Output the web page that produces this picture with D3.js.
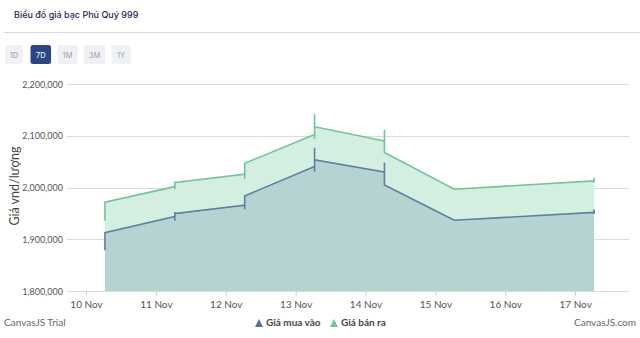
<!DOCTYPE html>
<html><head><meta charset="utf-8">
<script src="https://cdnjs.cloudflare.com/ajax/libs/d3/7.8.5/d3.min.js"></script>
<style>
html,body{margin:0;padding:0;background:#fff;}
svg{display:block;}
</style></head>
<body>
<svg id="c" width="640" height="338"></svg>
<script>
// ---- data ----
const title = "Biểu đồ giá bạc Phú Quý 999";
const rangeButtons = ["1D","7D","1M","3M","1Y"];
const activeButton = "7D";
const dates = ["2023-11-10 06:30","2023-11-11 06:30","2023-11-12 06:30","2023-11-13 06:30","2023-11-14 06:30","2023-11-15 06:30","2023-11-17 06:30"];
// each day: sequence of prices drawn at the same time (arrival, extremes, departure)
const buyValues = [
  [1879000, 1913000],
  [1944000, 1936000, 1953000, 1950000],
  [1966000, 1958000, 1984000],
  [2041000, 2031000, 2077000, 2054000],
  [2030000, 2048000, 2005000],
  [1937000],
  [1952000, 1949000, 1958000]
];
const sellValues = [
  [1936000, 1972000],
  [2002000, 1997000, 2012000, 2010000],
  [2026000, 2017000, 2047000],
  [2103000, 2094000, 2142000, 2118000],
  [2090000, 2112000, 2068000],
  [1997000],
  [2013000, 2010000, 2019000]
];
const seriesNames = ["Giá mua vào","Giá bán ra"];
const yTicks = [1800000, 1900000, 2000000, 2100000, 2200000];
const xTickDates = ["2023-11-10","2023-11-11","2023-11-12","2023-11-13","2023-11-14","2023-11-15","2023-11-16","2023-11-17"];
const yTitle = "Giá vnd/lượng";

// ---- drawing ----
const parse = d3.timeParse("%Y-%m-%d %H:%M");
const parseDay = d3.timeParse("%Y-%m-%d");
const svg = d3.select("#c");
const font = "Lato, 'Open Sans', sans-serif";

// header
svg.append("text").attr("x",14).attr("y",18).text(title)
  .attr("font-family","Inter, sans-serif").attr("font-size",9).attr("font-weight",500).attr("fill","#1e2752");
svg.append("line").attr("x1",4).attr("x2",640).attr("y1",32.5).attr("y2",32.5).attr("stroke","#d6d9e3");
const btnX = [5,30.5,57.5,84,111.5], btnW=[18,20.5,20,21,19];
rangeButtons.forEach((b,i)=>{
  const act = b===activeButton;
  svg.append("rect").attr("x",btnX[i]).attr("y",45).attr("width",btnW[i]).attr("height",19).attr("rx",2.5)
    .attr("fill",act?"#2c4586":"#f0f1f4");
  svg.append("text").attr("x",btnX[i]+btnW[i]/2).attr("y",57.5).attr("text-anchor","middle").text(b)
    .attr("font-family","Inter, sans-serif").attr("font-size",7.5).attr("fill",act?"#fff":"#9a9eab");
});

const x = d3.scaleTime()
  .domain([parse("2023-11-09 17:28"), parse("2023-11-17 18:30")])
  .range([67, 629]);
const y = d3.scaleLinear().domain([1800000, 2200000]).range([291, 84.3]);

// gridlines
svg.append("g").selectAll("line").data(yTicks).join("line")
  .attr("x1",67).attr("x2",629).attr("y1",d=>Math.round(y(d))+0.5).attr("y2",d=>Math.round(y(d))+0.5)
  .attr("stroke","#dcdcdc").attr("stroke-width",1);
svg.append("g").selectAll("text").data(yTicks).join("text")
  .attr("x",63).attr("y",d=>y(d)+3.5).attr("text-anchor","end").text(d=>d3.format(",")(d))
  .attr("font-family",font).attr("font-size",9).attr("fill","#555");

function flat(vals){
  const pts=[];
  vals.forEach((seq,i)=>seq.forEach(v=>pts.push({t:parse(dates[i]),v})));
  return pts;
}
const buyPts = flat(buyValues), sellPts = flat(sellValues);
const area = d3.area().x(d=>x(d.t)).y0(y(1800000)).y1(d=>y(d.v));
const line = d3.line().x(d=>x(d.t)).y(d=>y(d.v));

svg.append("path").attr("d",area(sellPts)).attr("fill","#d4eee1");
svg.append("path").attr("d",area(buyPts)).attr("fill","#b5d3d3");
svg.append("path").attr("d",line(sellPts)).attr("fill","none").attr("stroke","#6cc79b").attr("stroke-width",1.6);
svg.append("path").attr("d",line(buyPts)).attr("fill","none").attr("stroke","#5f7f9f").attr("stroke-width",1.6);

// x axis
const xAxis = d3.axisBottom(x).tickValues(xTickDates.map(parseDay)).tickFormat(d3.timeFormat("%-d %b")).tickSize(4).tickPadding(5);
const gx = svg.append("g").attr("transform","translate(0,291.5)").call(xAxis);
gx.select(".domain").remove();
gx.selectAll("line").attr("stroke","#ccc");
gx.selectAll("text").attr("font-family",font).attr("font-size",10).attr("fill","#555");

// y title
svg.append("text").attr("transform","translate(18.5,186) rotate(-90)").attr("text-anchor","middle").text(yTitle)
  .attr("font-family",font).attr("font-size",12.5).attr("fill","#444");

// footer
svg.append("text").attr("x",4).attr("y",326).text("CanvasJS Trial").attr("font-family",font).attr("font-size",10).attr("fill","#666");
svg.append("text").attr("x",636).attr("y",326).attr("text-anchor","end").text("CanvasJS.com").attr("font-family",font).attr("font-size",10).attr("fill","#666");

// legend
const legColors = ["#5a6fa3","#6cc79b"];
const legX = [259, 334];
seriesNames.forEach((n,i)=>{
  const cx=legX[i];
  svg.append("path").attr("d",`M${cx-4},327L${cx+4},327L${cx},319Z`).attr("fill",legColors[i]);
  svg.append("text").attr("x",cx+7).attr("y",326).text(n).attr("font-family",font).attr("font-size",10).attr("font-weight",700).attr("fill","#444");
});
</script>
</body></html>
